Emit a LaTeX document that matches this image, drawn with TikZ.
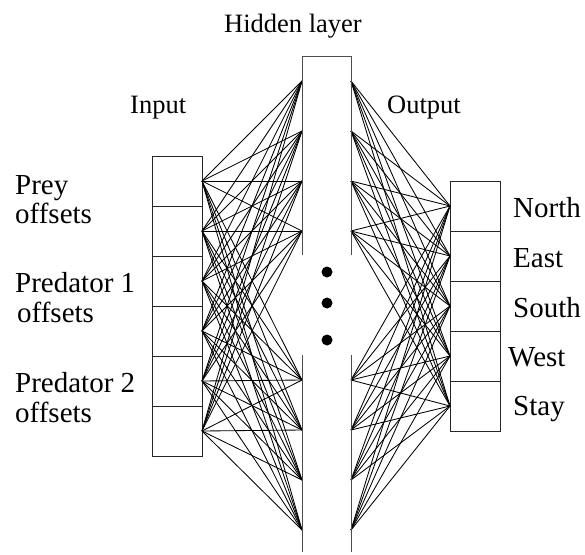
\documentclass[tikz,border=0pt]{standalone}
\usepackage{fontspec}
\setmainfont{Liberation Serif}
\begin{document}
\begin{tikzpicture}[x=1pt,y=-1pt,
  cell/.style={draw=black!85, minimum width=50pt, minimum height=50pt, inner sep=0pt, outer sep=0pt, line width=0.9pt},
  link/.style={line width=0.85pt, black},
  edge/.style={line width=1pt, black!70},
  lbl/.style={anchor=base west, inner sep=0pt, font=\fontsize{29}{29}\selectfont},
  toplbl/.style={anchor=base west, inner sep=0pt, font=\fontsize{26.5}{26.5}\selectfont},
  dotnode/.style={circle, fill=black, minimum size=11pt, inner sep=0pt}]
\useasboundingbox (0,0) rectangle (585,554);
% input cells
\foreach \k in {1,...,6} {
  \node[cell] (in\k) at (177,{131+50*\k}) {};
}
% output cells
\foreach \k in {1,...,5} {
  \node[cell] (out\k) at (475,{156+50*\k}) {};
}
% hidden layer points
\foreach \k/\yy in {1/81,2/131,3/181,4/231,5/380,6/430,7/480,8/530} {
  \coordinate (hl\k) at (302,\yy);
  \coordinate (hr\k) at (351,\yy);
}
\coordinate (htl) at (302,56);
\coordinate (htr) at (351,56);
\coordinate (hlm1) at (302,255);
\coordinate (hrm1) at (351,255);
\coordinate (hlm2) at (302,355);
\coordinate (hrm2) at (351,355);
\coordinate (hlb) at (302,552);
\coordinate (hrb) at (351,552);
% connections
\foreach \i in {1,...,6} {
  \foreach \h in {1,...,8} {
    \draw[link] (in\i.east) -- (hl\h);
  }
}
\foreach \h in {1,...,8} {
  \foreach \o in {1,...,5} {
    \draw[link] (hr\h) -- (out\o.west);
  }
}
% hidden layer outline
\draw[edge] (hlm1) -- (htl) -- (htr) -- (hrm1);
\draw[edge] (hlm2) -- (hlb);
\draw[edge] (hrm2) -- (hrb);
% dots
\node[dotnode] (d1) at (327,272) {};
\node[dotnode] (d2) at (327,303) {};
\node[dotnode] (d3) at (327,340) {};
% labels
\node[toplbl] (th) at (224,32) {Hidden layer};
\node[toplbl] (ti) at (130,113) {Input};
\node[toplbl] (to) at (387,113) {Output};
\node[lbl] (l1) at (15,194) {Prey};
\node[lbl] (l2) at (15,223) {offsets};
\node[lbl] (l3) at (15,292) {Predator 1};
\node[lbl] (l4) at (17,322) {offsets};
\node[lbl] (l5) at (15,392) {Predator 2};
\node[lbl] (l6) at (15,422) {offsets};
\node[lbl] (r1) at (513,217) {North};
\node[lbl] (r2) at (513,267) {East};
\node[lbl] (r3) at (513,317) {South};
\node[lbl] (r4) at (508,366) {West};
\node[lbl] (r5) at (513,415) {Stay};
\end{tikzpicture}
\end{document}
